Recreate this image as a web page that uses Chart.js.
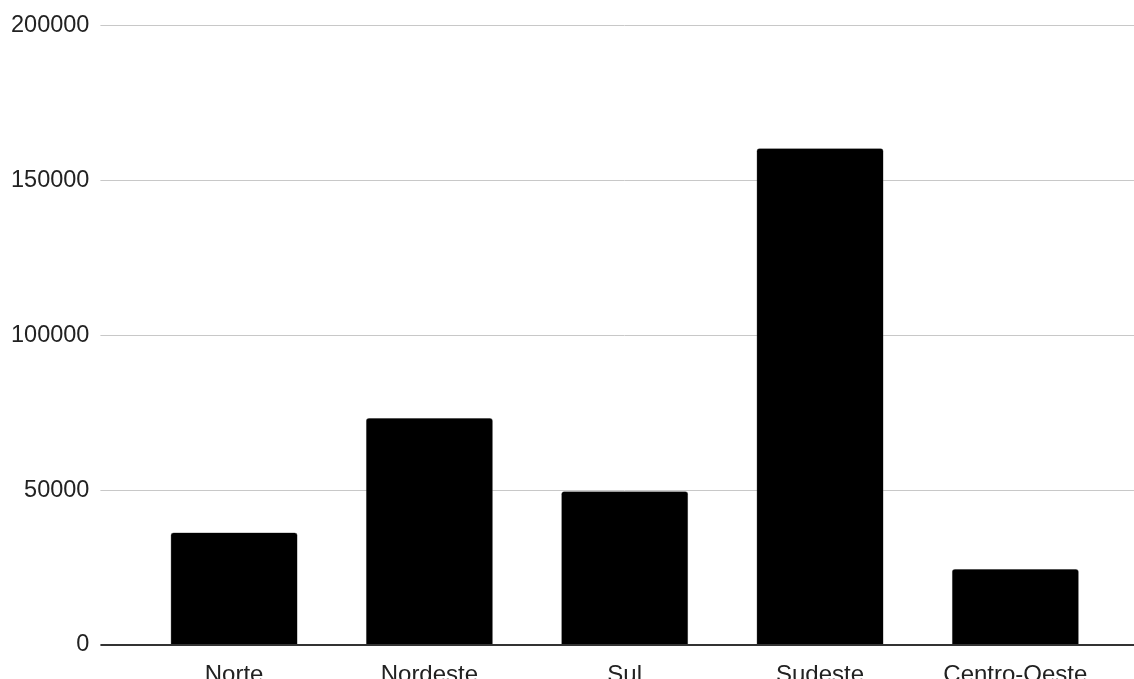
<!DOCTYPE html>
<html>
<head>
<meta charset="utf-8">
<script src="https://cdn.jsdelivr.net/npm/chart.js@4"></script>
<style>
  html, body { margin: 0; padding: 0; background: #fff; }
  #wrap { width: 1134px; height: 679px; }
</style>
</head>
<body>
<div id="wrap"><canvas id="myChart"></canvas></div>
<script>
var regions = ["Norte", "Nordeste", "Sul", "Sudeste", "Centro-Oeste"];
var population = [36300, 73200, 49600, 160300, 24500];
var yTicks = [0, 50000, 100000, 150000, 200000];

function lineCol(v) { return v === 0 ? '#333333' : '#c8c8c8'; }
function lineW(v) { return v === 0 ? 2 : 1; }

// grid lines in the reference run past the plot area to the right edge
var extendGrid = {
    id: 'extendGrid',
    beforeDatasetsDraw: function (chart) {
        var ctx = chart.ctx;
        var y = chart.scales.y;
        var area = chart.chartArea;
        ctx.save();
        y.ticks.forEach(function (t) {
            var lw = lineW(t.value);
            var py = Math.round(y.getPixelForValue(t.value) - lw / 2) + lw / 2;
            ctx.beginPath();
            ctx.strokeStyle = lineCol(t.value);
            ctx.lineWidth = lw;
            ctx.moveTo(Math.round(area.right), py);
            ctx.lineTo(chart.width, py);
            ctx.stroke();
        });
        ctx.restore();
    }
};

Chart.defaults.font.family = '"Liberation Sans", Arial, sans-serif';
Chart.defaults.color = '#222222';

new Chart(document.getElementById('myChart'), {
    type: 'bar',
    data: {
        labels: regions,
        datasets: [{
            data: population,
            backgroundColor: '#000000',
            borderColor: '#555555',
            borderWidth: 0.5,
            borderRadius: { topLeft: 3, topRight: 3 },
            borderSkipped: 'bottom',
            barPercentage: 0.65,
            categoryPercentage: 1.0
        }]
    },
    options: {
        responsive: true,
        maintainAspectRatio: false,
        animation: false,
        layout: { padding: { top: 14, right: 21, bottom: -18, left: 0 } },
        plugins: {
            legend: { display: false },
            tooltip: { enabled: false }
        },
        scales: {
            x: {
                grid: { display: false },
                border: { display: false },
                ticks: {
                    padding: 10,
                    font: { size: 24, lineHeight: 1.0 },
                    maxRotation: 0
                }
            },
            y: {
                min: 0,
                max: 200000,
                afterBuildTicks: function (axis) {
                    axis.ticks = yTicks.map(function (v) { return { value: v }; });
                },
                border: { display: false },
                grid: {
                    color: function (c) { return lineCol(c.tick ? c.tick.value : 1); },
                    lineWidth: function (c) { return lineW(c.tick ? c.tick.value : 1); },
                    tickLength: 36,
                    drawTicks: true
                },
                ticks: {
                    padding: 11,
                    font: { size: 23.5 },
                    callback: function (v) { return String(v); }
                }
            }
        }
    },
    plugins: [extendGrid]
});
</script>
</body>
</html>
